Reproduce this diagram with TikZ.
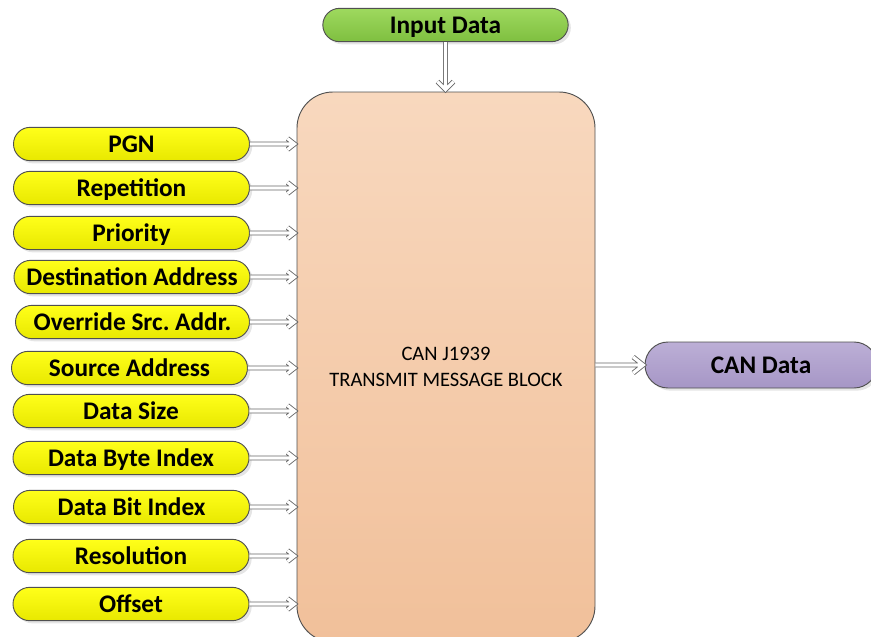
\documentclass[tikz,border=0pt]{standalone}
\usepackage{fontspec}
\setmainfont{Carlito}
\frenchspacing
\usetikzlibrary{shapes.misc,shadows}
\definecolor{ylwTop}{HTML}{FFFF1A}
\definecolor{ylwBot}{HTML}{E8E800}
\definecolor{grnTop}{HTML}{9ED95E}
\definecolor{grnBot}{HTML}{7FBF40}
\definecolor{purTop}{HTML}{BCAFD6}
\definecolor{purBot}{HTML}{A696C6}
\definecolor{blkTop}{HTML}{F8D8BE}
\definecolor{blkBot}{HTML}{F1C09A}
\definecolor{edge}{HTML}{505050}
\definecolor{arrEdge}{HTML}{666666}
\tikzset{
  pill/.style={rounded rectangle, draw=edge, line width=0.7pt, inner sep=0pt,
    minimum width=177pt, minimum height=25pt, text height=12.4pt, text depth=0pt,
    font=\bfseries\fontsize{19}{22}\selectfont,
    drop shadow={shadow xshift=2pt,shadow yshift=-2pt,fill=black!20}},
  yel/.style={pill, top color=ylwTop, bottom color=ylwBot},
  blockbox/.style={rectangle, rounded corners=27pt, draw=edge, line width=0.7pt,
    top color=blkTop, bottom color=blkBot, minimum width=223.5pt, minimum height=412.5pt,
    align=center, font=\fontsize{15.4}{19.5}\selectfont},
  arr/.style={draw=arrEdge, double=white, double distance=2.4pt, line width=0.65pt,
    line join=miter, line cap=butt},
}
\begin{document}
\begin{tikzpicture}[x=0.75pt,y=-0.75pt]
\useasboundingbox (0,0) rectangle (871,636);
\node[blockbox] (blk) at (446,367) {CAN J1939\\TRANSMIT MESSAGE BLOCK};
\node[pill, top color=grnTop, bottom color=grnBot, minimum width=184pt] (inp) at (445.5,25) {Input Data};
\node[pill, top color=purTop, bottom color=purBot, minimum width=174pt, minimum height=34.5pt] (can) at (761,365) {CAN Data};
\node[yel] (pgn) at (131.5,144) {PGN};
\node[yel] (rep) at (131.5,188) {Repetition};
\node[yel] (pri) at (131.5,233) {Priority};
\node[yel] (dst) at (132,277) {Destination Address};
\node[yel, minimum width=175.5pt] (ovr) at (132.5,322) {Override Src. Addr.};
\node[yel] (src) at (129.5,368) {Source Address};
\node[yel] (dsz) at (131,411) {Data Size};
\node[yel] (dby) at (131,458) {Data Byte Index};
\node[yel] (dbi) at (131.5,507) {Data Bit Index};
\node[yel] (res) at (131,556) {Resolution};
\node[yel] (off) at (131,604) {Offset};
\foreach \n in {pgn,rep,pri,dst,ovr,src,dsz,dby,dbi,res,off}
  \draw[arr] (\n.east) -- ([xshift=-1.5pt]\n.east -| blk.west) ++(-7,-5.5) -- ++(7,5.5) -- ++(-7,5.5);
\draw[arr] (inp.south) -- ([yshift=1.5pt]inp.south |- blk.north) ++(-8,-8) -- ++(8,8) -- ++(8,-8);
\draw[arr] (blk.east |- can.west) -- ([xshift=-1pt]can.west) ++(-10,-8) -- ++(10,8) -- ++(-10,8);
\end{tikzpicture}
\end{document}
